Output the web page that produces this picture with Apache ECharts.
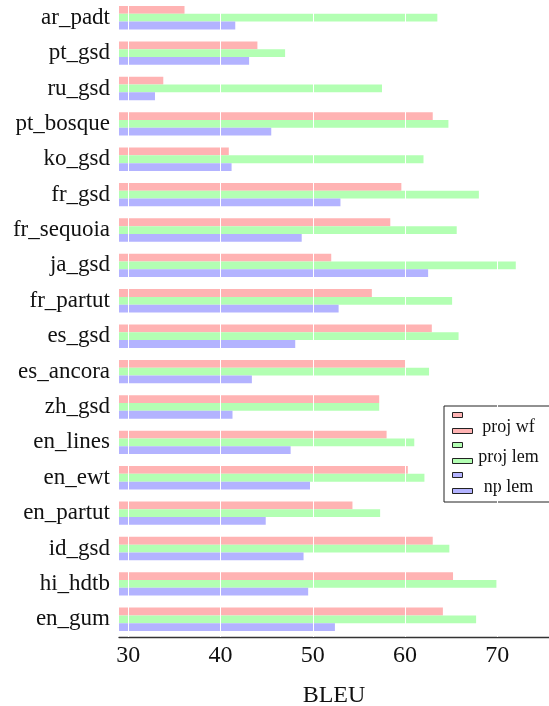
<!DOCTYPE html>
<html>
<head>
<meta charset="utf-8">
<script src="https://cdn.jsdelivr.net/npm/echarts@6/dist/echarts.min.js"></script>
<style>
  html, body { margin: 0; padding: 0; background: #fff; }
  #chart { width: 549px; height: 706px; }
</style>
</head>
<body>
<div id="chart"></div>
<script>
// treebanks, top to bottom as drawn
var treebanks = ['ar_padt', 'pt_gsd', 'ru_gsd', 'pt_bosque', 'ko_gsd', 'fr_gsd', 'fr_sequoia', 'ja_gsd',
    'fr_partut', 'es_gsd', 'es_ancora', 'zh_gsd', 'en_lines', 'en_ewt', 'en_partut', 'id_gsd', 'hi_hdtb', 'en_gum'];

var projWf  = [36.1, 44.0, 33.8, 63.0, 40.9, 59.6, 58.4, 52.0, 56.4, 62.9, 60.0, 57.2, 58.0, 60.3, 54.3, 63.0, 65.2, 64.1];
var projLem = [63.5, 47.0, 57.5, 64.7, 62.0, 68.0, 65.6, 72.0, 65.1, 65.8, 62.6, 57.2, 61.0, 62.1, 57.3, 64.8, 69.9, 67.7];
var npLem   = [41.6, 43.1, 32.9, 45.5, 41.2, 53.0, 48.8, 62.5, 52.8, 48.1, 43.4, 41.3, 47.6, 49.7, 44.9, 49.0, 49.5, 52.4];

var bleuTicks = [30, 40, 50, 60, 70];

var serif = '"Liberation Serif", "DejaVu Serif", serif';
var myChart = echarts.init(document.getElementById('chart'));

function barSeries(name, values, color) {
    return {
        name: name,
        type: 'bar',
        data: values,
        barWidth: 7.8,
        barGap: '0%',
        itemStyle: { color: color },
        animation: false
    };
}

var series = [
    barSeries('proj wf', projWf, '#ffb3b3'),
    barSeries('proj lem', projLem, '#b3ffb3'),
    barSeries('np lem', npLem, '#b3b3ff')
];
// white grid lines over the bars
series[2].markLine = {
    silent: true,
    symbol: 'none',
    label: { show: false },
    lineStyle: { color: '#fff', width: 1, type: 'solid' },
    data: bleuTicks.map(function (t) { return { xAxis: t }; })
};

myChart.setOption({
    animation: false,
    grid: { left: 119, right: 0, top: 0, bottom: 69, outerBoundsMode: 'none' },
    legend: {
        data: ['proj wf', 'proj lem', 'np lem'],
        orient: 'vertical',
        left: 444,
        top: 406,
        padding: [4, 40, 6, 8],
        itemGap: 4,
        itemWidth: 20,
        itemHeight: 21,
        icon: 'path://M0,0H10V5H0ZM0,16H20V21H0Z',
        itemStyle: { borderColor: '#222', borderWidth: 1 },
        borderColor: '#222',
        borderWidth: 1,
        borderRadius: 0,
        formatter: '{c|{name}}',
        textStyle: {
            fontFamily: serif,
            fontSize: 18,
            color: '#111',
            rich: {
                c: { width: 62, align: 'center', padding: [8, 0, 0, 0], fontFamily: serif, fontSize: 18, lineHeight: 18, color: '#111' }
            }
        }
    },
    xAxis: {
        type: 'value',
        min: 29,
        max: 75.6,
        name: 'BLEU',
        nameLocation: 'middle',
        nameGap: 47,
        nameTextStyle: { fontFamily: serif, fontSize: 24, color: '#111' },
        axisLine: { show: true, lineStyle: { color: '#333', width: 1.3 } },
        axisTick: { show: false },
        splitLine: { show: false },
        axisLabel: {
            customValues: bleuTicks,
            fontFamily: serif,
            fontSize: 24,
            color: '#111',
            margin: 7
        }
    },
    yAxis: {
        type: 'category',
        data: treebanks,
        inverse: true,
        axisLine: { show: false },
        axisTick: { show: false },
        splitLine: { show: false },
        axisLabel: { fontFamily: serif, fontSize: 23, color: '#111', margin: 9 }
    },
    series: series
});
</script>
</body>
</html>
